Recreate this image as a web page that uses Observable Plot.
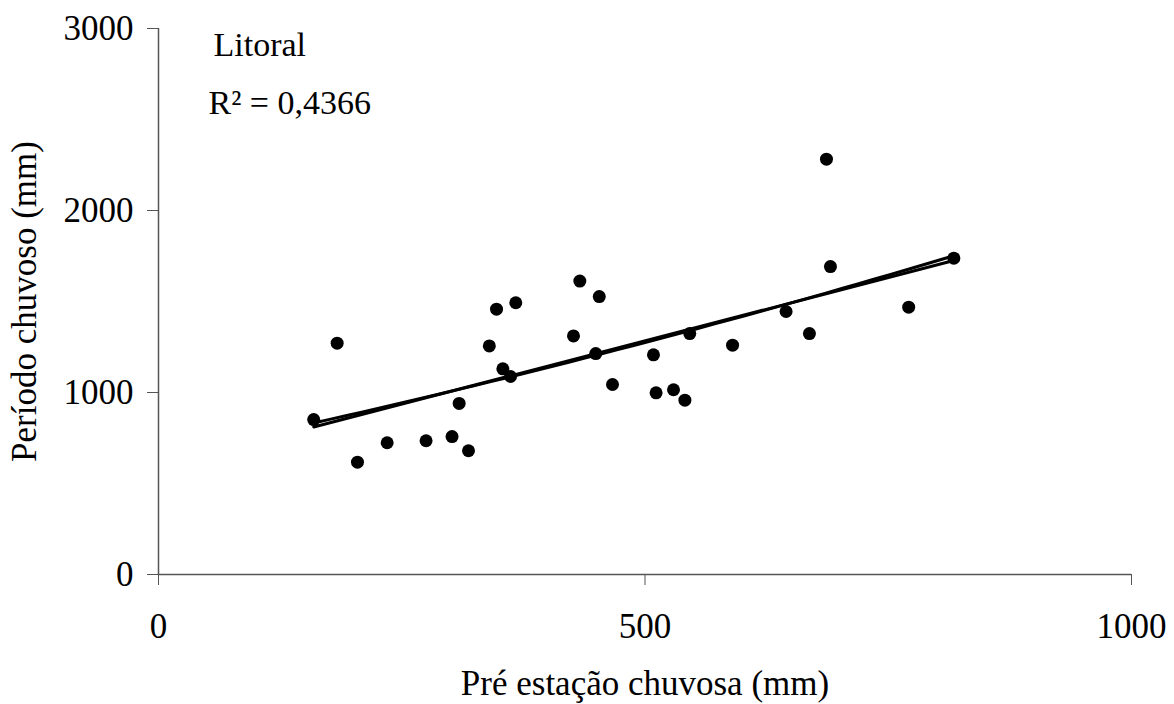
<!DOCTYPE html>
<html>
<head>
<meta charset="utf-8">
<script src="https://cdn.jsdelivr.net/npm/d3@7"></script>
<script src="https://cdn.jsdelivr.net/npm/@observablehq/plot@0.6"></script>
<style>
  html, body { margin: 0; padding: 0; background: #fff; }
  #chart svg { font-family: "Liberation Serif", "Times New Roman", serif; }
</style>
</head>
<body>
<div id="chart"></div>
<script>
// Pré estação chuvosa (mm)
const preEstacao = [159.5, 183.6, 204.5, 235, 275, 301.7, 309, 318.6, 340, 347.4,
  353.9, 361.8, 367.2, 426.5, 433, 449.4, 453, 466.6, 508.7, 511.4,
  529.3, 541, 546, 590, 645, 669, 686.5, 690.6, 771, 817.4];
// Período chuvoso (mm)
const periodoChuvoso = [851, 1271, 617, 724, 735, 758, 940, 680, 1256, 1458,
  1130, 1088, 1493, 1311, 1612, 1214, 1527, 1044, 1207, 998,
  1015, 958, 1324, 1260, 1445, 1324, 2282, 1692, 1469, 1738];
const xTicks = [0, 500, 1000];
const yTicks = [0, 1000, 2000, 3000];
const titleText = "Litoral";
const r2Text = "R² = 0,4366";
const xLabel = "Pré estação chuvosa (mm)";
const yLabel = "Período chuvoso (mm)";

const data = preEstacao.map((x, i) => ({x, y: periodoChuvoso[i]}));

// second trendline: quadratic least-squares fit from the data
function polyFit2(xs, ys) {
  const n = xs.length;
  let s = [0, 0, 0, 0, 0], t = [0, 0, 0];
  xs.forEach((x, i) => {
    for (let k = 0; k < 5; k++) s[k] += x ** k;
    for (let k = 0; k < 3; k++) t[k] += ys[i] * x ** k;
  });
  const M = [[s[0], s[1], s[2], t[0]], [s[1], s[2], s[3], t[1]], [s[2], s[3], s[4], t[2]]];
  for (let c = 0; c < 3; c++) {
    for (let r = c + 1; r < 3; r++) {
      const f = M[r][c] / M[c][c];
      for (let k = c; k < 4; k++) M[r][k] -= f * M[c][k];
    }
  }
  const coef = [0, 0, 0];
  for (let r = 2; r >= 0; r--) {
    let v = M[r][3];
    for (let k = r + 1; k < 3; k++) v -= M[r][k] * coef[k];
    coef[r] = v / M[r][r];
  }
  return coef;
}
const [c0, c1, c2] = polyFit2(preEstacao, periodoChuvoso);
const [x0, x1] = d3.extent(preEstacao);
const polyTrend = d3.range(41).map(i => {
  const x = x0 + (x1 - x0) * i / 40;
  return {x, y: c0 + c1 * x + c2 * x * x};
});

const fs = 35;
const chart = Plot.plot({
  width: 1174,
  height: 704,
  marginLeft: 158,
  marginRight: 43,
  marginTop: 28,
  marginBottom: 130,
  style: {fontSize: fs + "px", fontFamily: '"Liberation Serif", "Times New Roman", serif', color: "#000", background: "#fff"},
  x: {domain: [0, 1000], label: null},
  y: {domain: [0, 3000], label: null},
  marks: [
    Plot.axisX({ticks: xTicks, tickFormat: d => String(d), tickSize: 11, tickPadding: 28, label: null, stroke: "#555", fill: "#000", fontSize: fs}),
    Plot.axisY({ticks: yTicks, tickFormat: d => String(d), tickSize: 11, tickPadding: 14, label: null, stroke: "#555", fill: "#000", fontSize: fs}),
    Plot.ruleY([0], {stroke: "#555", strokeWidth: 1.5}),
    Plot.ruleX([0], {stroke: "#555", strokeWidth: 1.5}),
    Plot.linearRegressionY(data, {x: "x", y: "y", ci: 0, stroke: "#000", strokeWidth: 3}),
    Plot.line(polyTrend, {x: "x", y: "y", stroke: "#000", strokeWidth: 3}),
    Plot.dot(data, {x: "x", y: "y", r: 6.5, fill: "#000", stroke: "none"}),
    Plot.text([titleText], {frameAnchor: "top-left", text: d => d, dx: 55, dy: 3, textAnchor: "start", lineAnchor: "top", fontSize: 34, fill: "#000"}),
    Plot.text([r2Text], {frameAnchor: "top-left", text: d => d, dx: 50, dy: 61, textAnchor: "start", lineAnchor: "top", fontSize: 34, fill: "#000"}),
    Plot.text([xLabel], {frameAnchor: "bottom", text: d => d, dy: 120, textAnchor: "middle", lineAnchor: "bottom", fontSize: fs, fill: "#000"}),
    Plot.text([yLabel], {frameAnchor: "left", text: d => d, dx: -134, rotate: -90, textAnchor: "middle", lineAnchor: "middle", fontSize: fs, fill: "#000"})
  ]
});
document.getElementById("chart").appendChild(chart);
</script>
</body>
</html>
